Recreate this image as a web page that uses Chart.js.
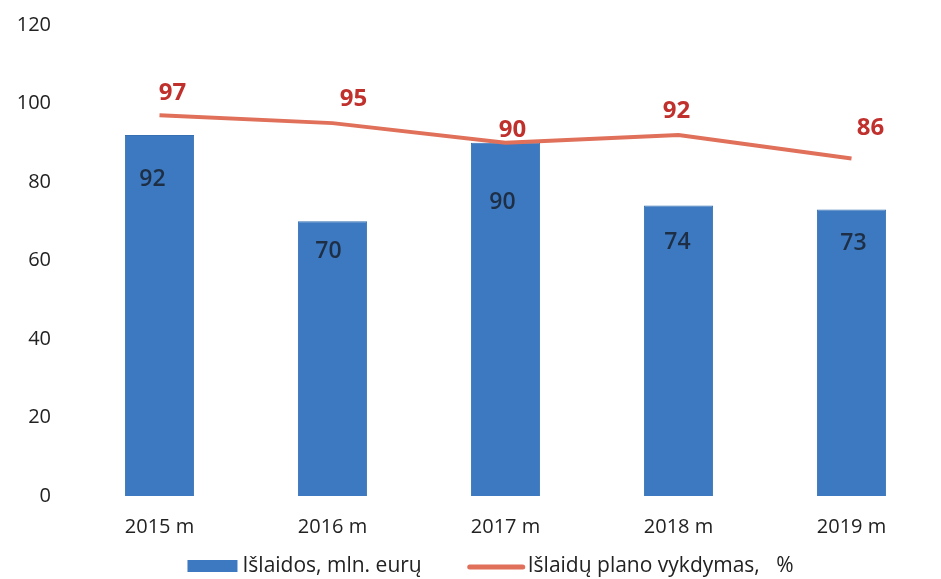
<!DOCTYPE html>
<html>
<head>
<meta charset="utf-8">
<script src="https://cdn.jsdelivr.net/npm/chart.js@4/dist/chart.umd.min.js"></script>
<style>
  html, body { margin: 0; padding: 0; background: #fff; }
  #wrap { width: 941px; height: 579px; }
</style>
</head>
<body>
<div id="wrap"><canvas id="myChart" width="941" height="579"></canvas></div>
<script>
// duomenys
const years = ['2015 m', '2016 m', '2017 m', '2018 m', '2019 m'];
const islaidos = [92, 70, 90, 74, 73];
const vykdymas = [97, 95, 90, 92, 86];
const yTicks = [0, 20, 40, 60, 80, 100, 120];
const seriesNames = ['Išlaidos, mln. eurų', 'Išlaidų plano vykdymas,   %'];

const FONT = '"Open Sans", "DejaVu Sans", sans-serif';
const BAR_COLOR = '#3d79c0';
const LINE_COLOR = '#e0705a';

// užrašų poslinkiai (kaip rankiniu būdu išdėstyta Excel'yje)
const barLabelShift = [[-7, 45], [-4, 30], [-3, 60], [-1, 37], [2, 34]];
const lineLabelShift = [[13, -22], [21, -24], [7, -13], [-2, -24], [19, -30]];

const valueLabels = {
  id: 'valueLabels',
  afterDatasetsDraw(chart) {
    const ctx = chart.ctx;
    ctx.save();
    ctx.textAlign = 'center';
    ctx.textBaseline = 'middle';

    chart.getDatasetMeta(0).data.forEach((bar, i) => {
      ctx.font = '600 23px ' + FONT;
      ctx.fillStyle = '#1e2f45';
      ctx.fillText(islaidos[i], bar.x + barLabelShift[i][0], bar.y + barLabelShift[i][1]);
    });

    chart.getDatasetMeta(1).data.forEach((pt, i) => {
      ctx.font = 'bold 24px ' + FONT;
      ctx.fillStyle = '#c0302c';
      ctx.fillText(vykdymas[i], pt.x + lineLabelShift[i][0], pt.y + lineLabelShift[i][1]);
    });
    ctx.restore();
  }
};

// legenda apačioje
const bottomLegend = {
  id: 'bottomLegend',
  afterDraw(chart) {
    const ctx = chart.ctx;
    ctx.save();
    ctx.font = '21px ' + FONT;
    ctx.textBaseline = 'middle';
    const y = 566;
    const barKeyW = 50, lineKeyW = 57, gapItem = 46;
    const w0 = ctx.measureText(seriesNames[0]).width;
    const w1 = ctx.measureText(seriesNames[1]).width;
    const total = barKeyW + 5 + w0 + gapItem + lineKeyW + 3 + w1;
    let x = (chart.width - total) / 2 + 20;

    ctx.fillStyle = BAR_COLOR;
    ctx.fillRect(x, y - 6, barKeyW, 12);
    x += barKeyW + 5;
    ctx.fillStyle = '#222';
    ctx.fillText(seriesNames[0], x, y);
    x += w0 + gapItem;

    ctx.strokeStyle = LINE_COLOR;
    ctx.lineWidth = 5;
    ctx.lineCap = 'round';
    ctx.beginPath();
    ctx.moveTo(x + 2, y + 1);
    ctx.lineTo(x + lineKeyW - 2, y + 1);
    ctx.stroke();
    x += lineKeyW + 3;
    ctx.fillText(seriesNames[1], x, y);
    ctx.restore();
  }
};

const ctx = document.getElementById('myChart').getContext('2d');
new Chart(ctx, {
  type: 'bar',
  data: {
    labels: years,
    datasets: [{
      type: 'bar',
      label: seriesNames[0],
      data: islaidos,
      backgroundColor: BAR_COLOR,
      borderColor: '#3670b2',
      borderWidth: 1,
      barPercentage: 0.4,
      categoryPercentage: 1,
      order: 2
    }, {
      type: 'line',
      label: seriesNames[1],
      data: vykdymas,
      borderColor: LINE_COLOR,
      backgroundColor: LINE_COLOR,
      borderWidth: 4,
      pointRadius: 0,
      tension: 0,
      order: 1
    }]
  },
  options: {
    responsive: false,
    animation: false,
    layout: { padding: { top: 25, right: 3, left: 0, bottom: 21 } },
    plugins: {
      tooltip: { enabled: false },
      legend: { display: false }
    },
    scales: {
      x: {
        grid: { display: false, drawTicks: false },
        border: { display: false },
        ticks: { font: { family: FONT, size: 20 }, color: '#222', padding: 19 }
      },
      y: {
        min: 0,
        max: 120,
        afterBuildTicks(axis) { axis.ticks = yTicks.map(v => ({ value: v })); },
        afterFit(axis) {
          axis.width = 73;
          axis.paddingTop = 0;
          axis.paddingBottom = 0;
        },
        grid: { display: false, drawTicks: false },
        border: { display: false },
        ticks: { font: { family: FONT, size: 20 }, color: '#222', padding: 22 }
      }
    }
  },
  plugins: [valueLabels, bottomLegend]
});
</script>
</body>
</html>
